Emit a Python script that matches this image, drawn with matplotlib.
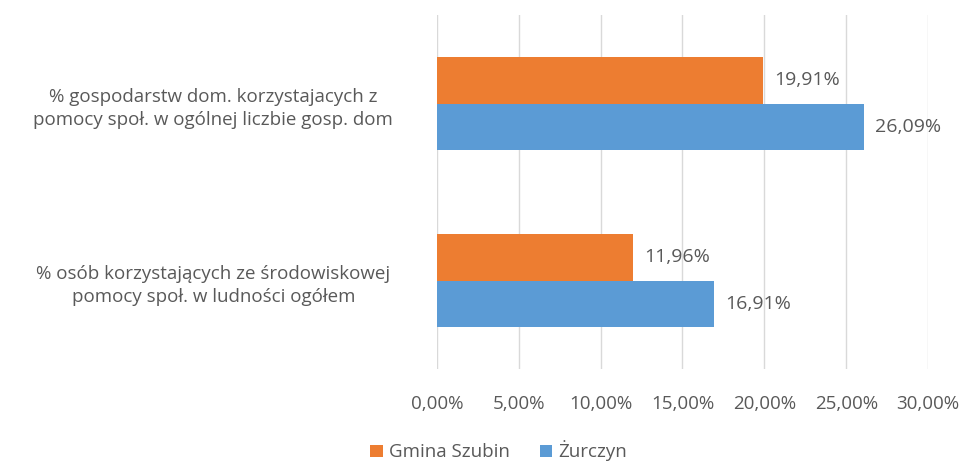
import numpy as np
import matplotlib
matplotlib.use('Agg')
import matplotlib.pyplot as plt

# Dane
kategorie = ['% osób korzystających ze środowiskowej\npomocy społ. w ludności ogółem',
             '% gospodarstw dom. korzystajacych z\npomocy społ. w ogólnej liczbie gosp. dom']
gmina_szubin = [11.96, 19.91]
zurczyn = [16.91, 26.09]
serie = ['Gmina Szubin', 'Żurczyn']
ticki = [0, 5, 10, 15, 20, 25, 30]

plt.rcParams['font.family'] = ['Open Sans', 'DejaVu Sans']
szary = '#595959'
fs = 13.5

fig = plt.figure(figsize=(9.65, 4.62), dpi=100)
ax = fig.add_axes([0.4528, 0.2013, 0.5089, 0.7662])

y = np.arange(len(kategorie))
h = 0.263
b1 = ax.barh(y + h / 2, gmina_szubin, height=h, color='#ED7D31', label=serie[0], zorder=3)
b2 = ax.barh(y - h / 2, zurczyn, height=h, color='#5B9BD5', label=serie[1], zorder=3)

# etykiety wartości przy końcach słupków
for bars, vals in ((b1, gmina_szubin), (b2, zurczyn)):
    for bar, v in zip(bars, vals):
        ax.annotate(f'{v:.2f}%'.replace('.', ','),
                    (bar.get_width(), bar.get_y() + bar.get_height() / 2),
                    xytext=(8, 0), textcoords='offset points',
                    va='center', ha='left', fontsize=fs + 0.5, color=szary)

ax.set_xlim(0, 30)
ax.set_ylim(-0.5, 1.5)
ax.set_xticks(ticki)
ax.set_xticklabels([f'{t:.2f}%'.replace('.', ',') for t in ticki], fontsize=fs, color=szary)
ax.set_yticks(y)
ax.set_yticklabels(kategorie, fontsize=fs, color=szary, ha='center',
                   multialignment='center', linespacing=1.4)
ax.tick_params(axis='y', length=0, pad=161)
ax.tick_params(axis='x', length=0, pad=19)
ax.grid(axis='x', color='#D9D9D9', linewidth=1, zorder=0)
for s in ax.spines.values():
    s.set_visible(False)

fig.legend(loc='center', bbox_to_anchor=(0.517, 0.024), ncol=2, frameon=False,
           fontsize=fs, labelcolor=szary, handlelength=0.65, handleheight=0.65,
           handletextpad=0.35, columnspacing=1.6)

plt.savefig('out.png', dpi=100)
